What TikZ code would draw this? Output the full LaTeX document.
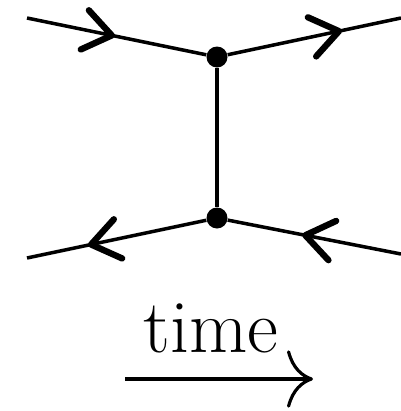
\documentclass[tikz,border=0pt]{standalone}
\usepackage{fontspec}
\usepackage{tikz}
\usetikzlibrary{arrows.meta,decorations.markings}

\tikzset{
    line/.style={line width=2pt, black},
    vertex/.style={circle, fill=black, inner sep=0pt, minimum size=0.42cm},
    midarrow/.style={postaction={decorate, decoration={markings,
        mark=at position #1 with {\arrow{Straight Barb[length=0.55cm, width=0.8cm, line width=3.6pt, round]}}}}}
}

\begin{document}
\begin{tikzpicture}
    \useasboundingbox (0,0) rectangle (8.02,-8.22);

    % Vertices
    \node[vertex] (top) at (4.34,-1.14) {};
    \node[vertex] (bot) at (4.34,-4.36) {};

    % Free ends of the external lines
    \coordinate (tl) at (0.54,-0.36);
    \coordinate (tr) at (8.02,-0.36);
    \coordinate (bl) at (0.54,-5.16);
    \coordinate (br) at (8.02,-5.08);

    % Lines
    \draw[line, midarrow=0.49] (tl) -- (top);
    \draw[line, midarrow=0.66] (top) -- (tr);
    \draw[line, midarrow=0.66] (bot) -- (bl);
    \draw[line, midarrow=0.57] (br) -- (bot);
    \draw[line] (top) -- (bot);

    % Time arrow
    \node[anchor=base, font=\fontsize{43}{48}\selectfont] (lbl) at (4.22,-7.04) {time};
    \coordinate (t0) at (2.5,-7.58);
    \coordinate (t1) at (6.26,-7.58);
    \draw[line width=1.8pt, -{Computer Modern Rightarrow[length=0.52cm, width=1.15cm, line width=1.8pt]}] (t0) -- (t1);
\end{tikzpicture}
\end{document}
